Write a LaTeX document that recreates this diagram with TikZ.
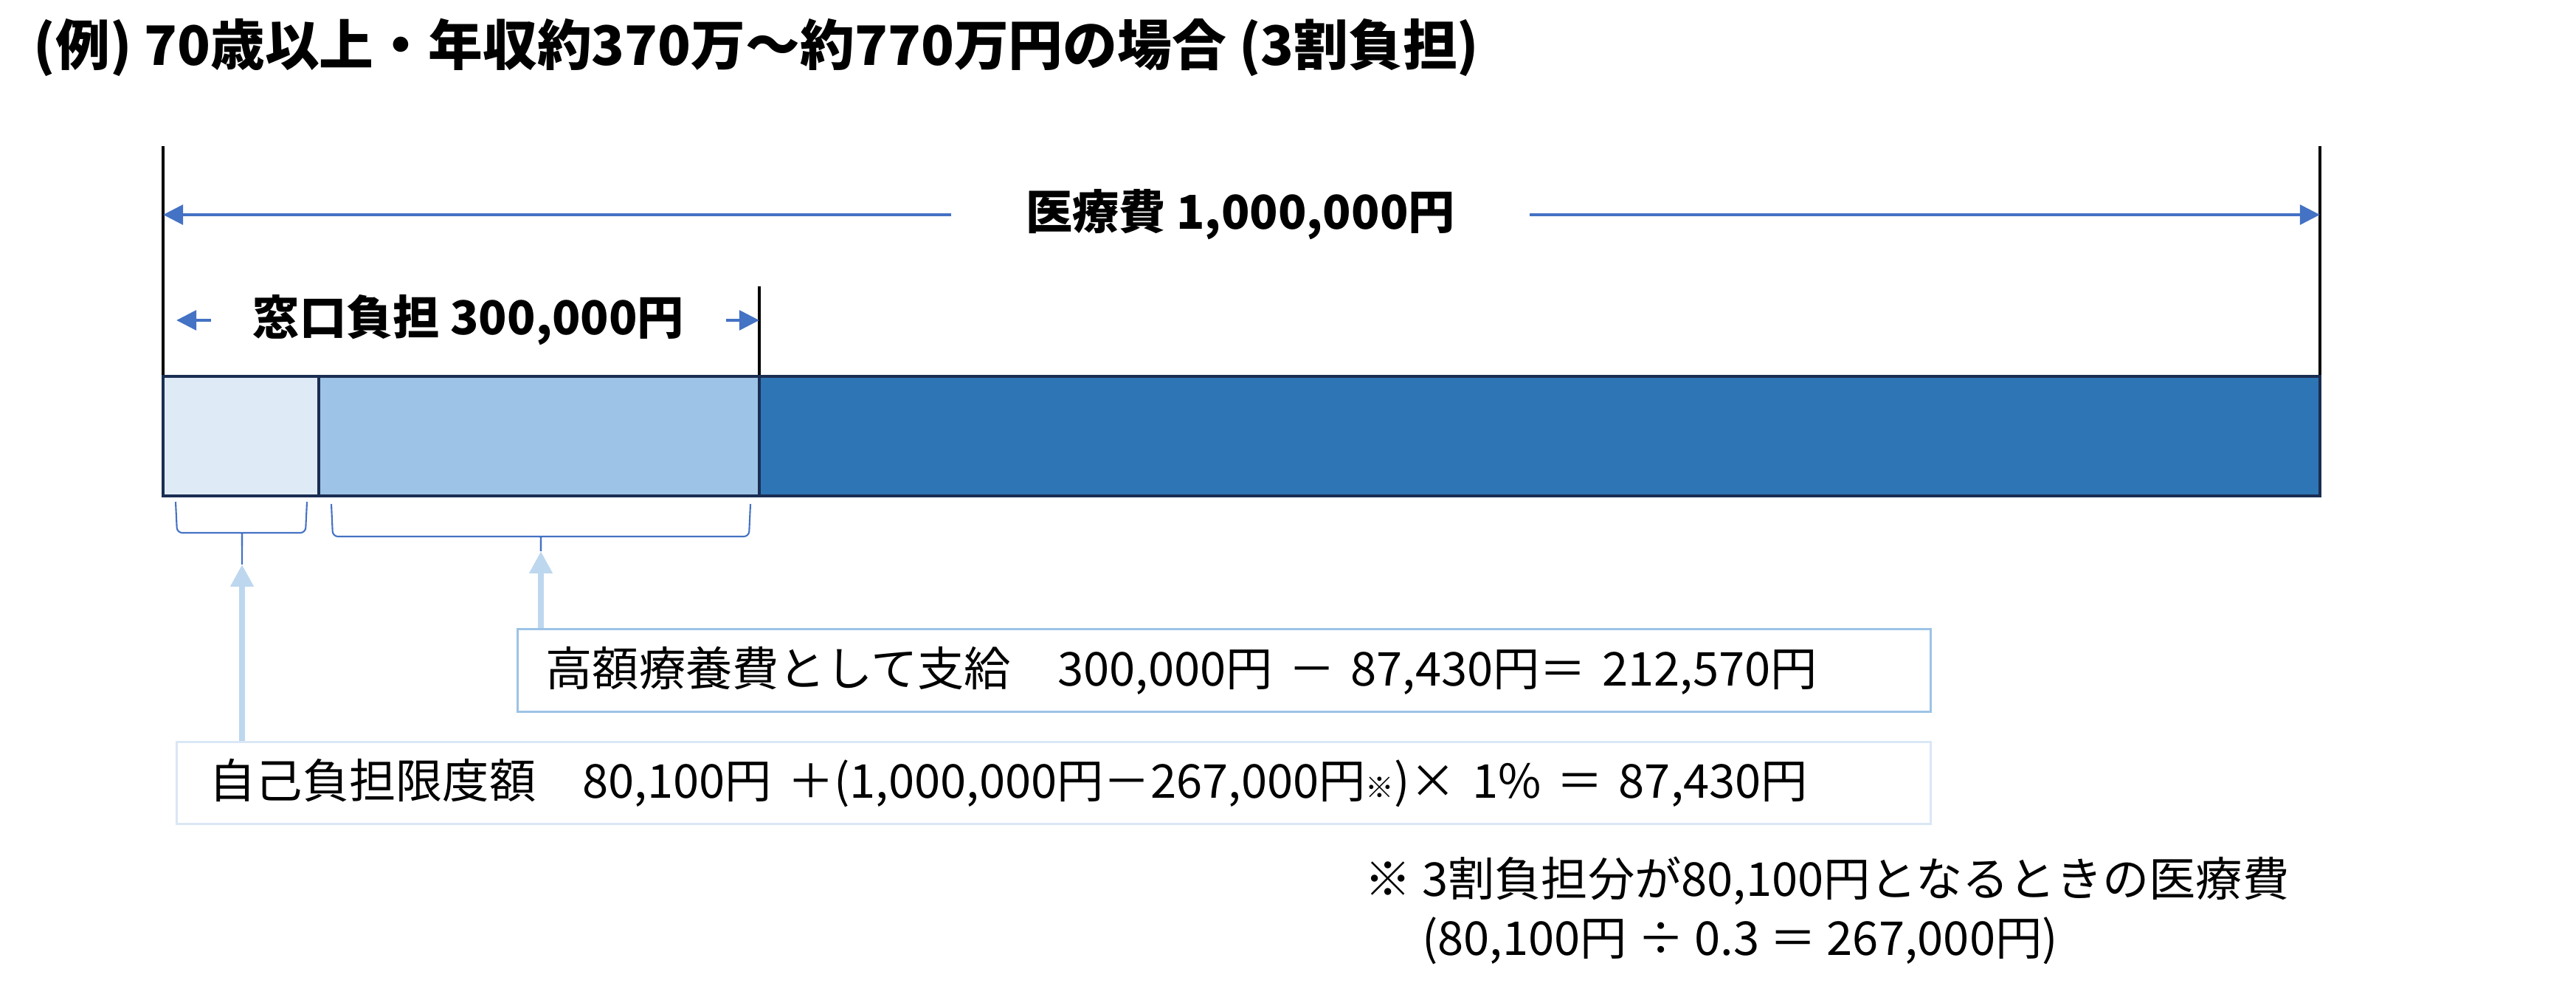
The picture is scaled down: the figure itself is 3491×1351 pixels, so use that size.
\documentclass[tikz,border=0pt]{standalone}
\usepackage{fontspec}
\setmainfont{Noto Sans CJK JP}
\usepackage{tikz}
\usetikzlibrary{arrows.meta, positioning, calc}
\definecolor{lightfill}{HTML}{DEEBF7}
\definecolor{midfill}{HTML}{9DC3E6}
\definecolor{darkfill}{HTML}{2E75B6}
\definecolor{barline}{HTML}{1A2D52}
\definecolor{arrblue}{HTML}{4472C4}
\definecolor{arrlight}{HTML}{BDD7EE}
\definecolor{boxline}{HTML}{9DC3E6}
\definecolor{boxpale}{HTML}{DAE7F5}

\begin{document}
\begin{tikzpicture}[x=0.1mm, y=-0.1mm, >={Triangle[length=7.7pt,width=7.5pt]},
  txt/.style={font=\fontsize{18}{22.8}\selectfont, inner sep=0pt},
  lbl/.style={font=\bfseries\fontsize{18}{22}\selectfont, inner ysep=0pt},
  bluearr/.style={->, draw=arrblue, line width=1.4pt},
  brc/.style={draw=arrblue, line width=0.6pt, rounded corners=2pt},
  uparr/.style={-{Triangle[length=8.5pt,width=8.5pt]}, draw=arrlight, line width=2.3pt},
  infobox/.style={txt, draw, line width=0.85pt, anchor=north west, align=left},
  seg/.style={draw=barline, line width=1.15pt}]

\useasboundingbox (0,0) rectangle (3491,1351);

% Titolo
\node[anchor=west, inner sep=0pt, font=\bfseries\fontsize{21}{25}\selectfont] (title) at (45,64)
  {(例) 70歳以上・年収約370万～約770万円の場合 (3割負担)};

% Linee verticali
\coordinate (ltop) at (221,198);
\coordinate (rtop) at (3144,198);
\coordinate (mtop) at (1029,388);
\draw[line width=0.9pt] (ltop) -- (221,510);
\draw[line width=0.9pt] (rtop) -- (3144,510);
\draw[line width=0.9pt] (mtop) -- (1029,510);

% Spesa totale
\node[lbl, inner xsep=10mm] (total) at (1681,291) {医療費 1,000,000円};
\draw[bluearr] (total.west) -- (total.west -| ltop);
\draw[bluearr] (total.east) -- (total.east -| rtop);

% Pagamento allo sportello
\node[lbl, inner xsep=5.6mm] (window) at (635,434) {窓口負担 300,000円};
\draw[bluearr] (window.west) -- ($(window.west -| ltop)+(18,0)$);
\draw[bluearr] (window.east) -- (window.east -| mtop);

% Barra
\filldraw[seg, fill=lightfill] (221,510) rectangle (432,672);
\filldraw[seg, fill=midfill] (432,510) rectangle (1029,672);
\filldraw[seg, fill=darkfill] (1029,510) rectangle (3144,672);

% Riquadri
\node[infobox, draw=boxline, text width=183.9mm, inner xsep=3.8mm, minimum height=11.2mm] (shikyu) at (700,851)
  {高額療養費として支給　300,000円 － 87,430円＝ 212,570円};
\node[infobox, draw=boxpale, text width=228.9mm, inner xsep=4.4mm, minimum height=11.1mm] (gendo) at (238,1004)
  {自己負担限度額　80,100円 ＋(1,000,000円－267,000円{\fontsize{11}{11}\selectfont ※})× 1\% ＝ 87,430円};

% Graffe e frecce
\coordinate (tipA) at (328,765);
\coordinate (tipB) at (733,747);
\draw[uparr] (gendo.north -| tipA) -- (tipA);
\draw[uparr] (shikyu.north -| tipB) -- (tipB);
\draw[brc] (238,680) -- (240,722) -- (320,722) .. controls (328,722) .. (328,740) -- (tipA);
\draw[brc] (416,680) -- (414,722) -- (336,722) .. controls (328,722) .. (328,740);
\draw[brc] (449,683) -- (451,727) -- (725,727) .. controls (733,727) .. (tipB);
\draw[brc] (1017,683) -- (1015,727) -- (741,727) .. controls (733,727) .. (tipB);

% Nota
\node[txt, anchor=north west, align=left] (note) at (1849,1160)
  {※ 3割負担分が80,100円となるときの医療費\\\phantom{※ }(80,100円 ÷ 0.3 ＝ 267,000円)};
\end{tikzpicture}
\end{document}
